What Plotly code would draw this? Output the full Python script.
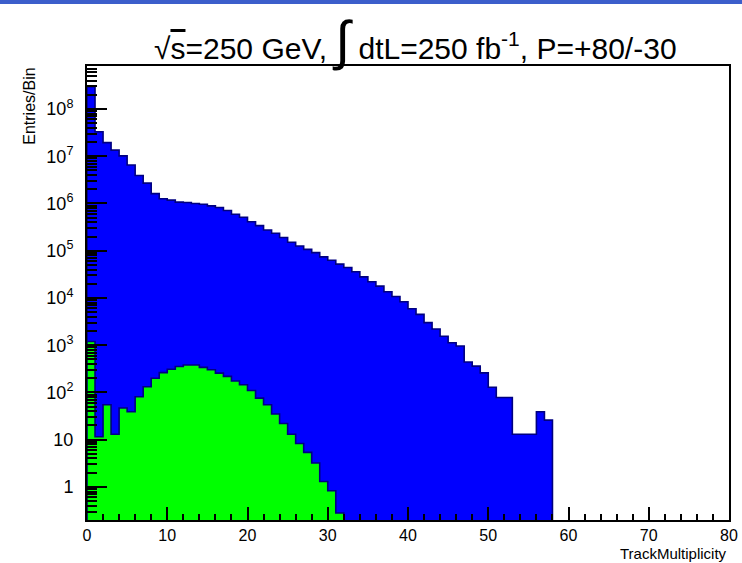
import plotly.graph_objects as go

# Bin contents (bin width 1, bins start at 0)
blue_vals = [2.95e8, 3.3e7, 1.94e7, 1.35e7, 1.02e7, 6.5e6, 3.9e6, 2.7e6, 1.62e6, 1.26e6,
             1.18e6, 1.07e6, 1.05e6, 1.0e6, 9.6e5, 8.9e5, 8.2e5, 7.1e5, 5.9e5, 5.1e5,
             4.1e5, 3.4e5, 2.75e5, 2.35e5, 1.91e5, 1.51e5, 1.26e5, 1.07e5, 9.1e4, 7.4e4,
             6.3e4, 5.2e4, 4.4e4, 3.6e4, 2.8e4, 2.2e4, 1.78e4, 1.35e4, 1.07e4, 8.3e3,
             5.9e3, 4.5e3, 3.0e3, 2.2e3, 1.55e3, 1.13e3, 960, 440, 360, 260,
             129, 78, 78, 13, 13, 13, 39, 26]
green_vals = [1200, 11.5, 55, 13, 47, 39, 81, 132, 200, 263,
              309, 355, 380, 380, 340, 302, 257, 219, 175, 145,
              110, 76, 55, 35, 22, 13, 8.3, 5.4, 3.2, 1.3,
              0.83, 0.28]

x_major = [0, 10, 20, 30, 40, 50, 60, 70, 80]
x_labels = [str(v) for v in x_major]
x_minor = [v for v in range(0, 81, 2) if v % 10 != 0]
y_major = [1, 10, 1e2, 1e3, 1e4, 1e5, 1e6, 1e7, 1e8]
y_labels = ["1", "10"] + ["10<sup>%d</sup>" % k for k in range(2, 9)]
y_minor = [m * 10 ** k for k in range(-1, 9) for m in range(2, 10)]

title_text = ('√<span style="text-decoration:overline">s</span>=250 GeV, '
              '<span style="font-size:54px">∫</span> dtL=250 fb<sup>-1</sup>, P=+80/-30')

FLOOR = 1e-3


def step_path(vals):
    xs, ys = [0], [FLOOR]
    for i, v in enumerate(vals):
        yv = v if v > 0 else FLOOR
        xs += [i, i + 1]
        ys += [yv, yv]
    xs.append(len(vals))
    ys.append(FLOOR)
    return xs, ys


fig = go.Figure()
bx, by = step_path(blue_vals)
fig.add_trace(go.Scatter(x=bx, y=by, mode="lines", fill="toself", fillcolor="#0000ff",
                         line=dict(color="#000080", width=1.6), hoverinfo="skip",
                         showlegend=False))
gx, gy = step_path(green_vals)
fig.add_trace(go.Scatter(x=gx, y=gy, mode="lines", fill="toself", fillcolor="#00ff00",
                         line=dict(color="#000080", width=1.6), hoverinfo="skip",
                         showlegend=False))

font = "Liberation Sans, Arial, Helvetica, sans-serif"

fig.update_layout(
    width=742, height=563,
    margin=dict(l=87, r=13, t=66, b=43, autoexpand=False),
    paper_bgcolor="white", plot_bgcolor="white",
    font=dict(family=font, color="black", size=16),
    xaxis=dict(range=[0, 80], tickmode="array", tickvals=x_major, ticktext=x_labels,
               ticks="inside", ticklen=13, tickwidth=2, tickcolor="black",
               showline=True, linecolor="black", linewidth=2, mirror=True,
               showgrid=False, zeroline=False, automargin=False,
               tickfont=dict(size=16, family=font),
               minor=dict(tickmode="array", tickvals=x_minor, ticks="inside",
                          ticklen=6, tickwidth=2, tickcolor="black", showgrid=False)),
    yaxis=dict(type="log", range=[-0.70, 8.91], tickmode="array", tickvals=y_major,
               ticktext=y_labels, ticks="inside", ticklen=20, tickwidth=2,
               tickcolor="black", showline=True, linecolor="black", linewidth=2,
               mirror=True, showgrid=False, zeroline=False, ticklabelstandoff=8,
               automargin=False,
               tickfont=dict(size=18, family=font),
               minor=dict(tickmode="array", tickvals=y_minor, ticks="inside",
                          ticklen=10, tickwidth=2, tickcolor="black", showgrid=False)),
    annotations=[
        dict(text=title_text, xref="paper", yref="paper", x=0.511, y=(520 - 40) / 454,
             xanchor="center", yanchor="middle", showarrow=False,
             font=dict(size=30, family=font, color="black")),
        dict(text="Entries/Bin", xref="paper", yref="paper", x=-0.090, y=1.0,
             xanchor="center", yanchor="top", textangle=-90, showarrow=False,
             font=dict(size=16, family=font, color="black")),
        dict(text="TrackMultiplicity", xref="paper", yref="paper", x=1.0,
             y=-(553 - 520) / 454, xanchor="right", yanchor="middle", showarrow=False,
             font=dict(size=15, family=font, color="black")),
    ],
    shapes=[
        dict(type="rect", xref="paper", yref="paper", x0=-0.14, x1=1.03,
             y0=(520 - 4) / 454, y1=(520 + 0) / 454 + 0.01, fillcolor="#3c5ecb",
             line=dict(width=0), layer="above"),
    ],
)

fig.write_html("out.html")
